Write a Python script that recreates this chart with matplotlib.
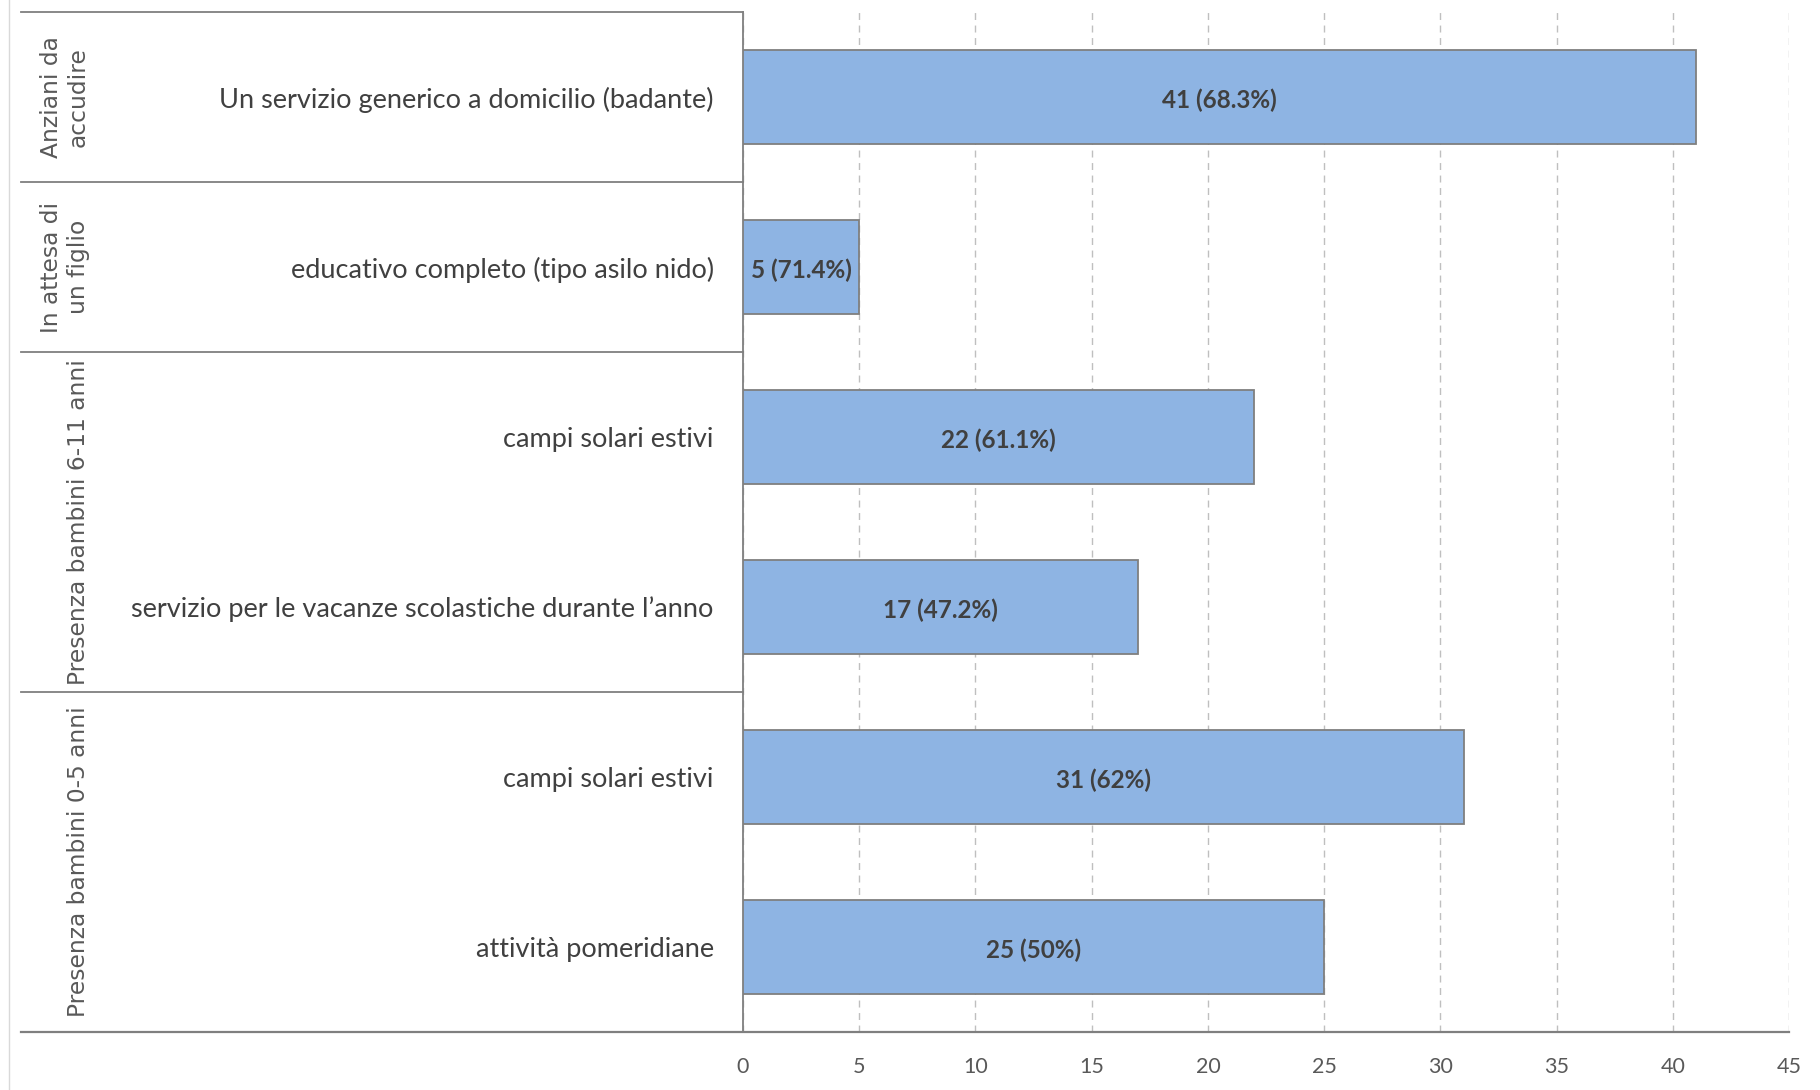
import numpy as np
import matplotlib.pyplot as plt
from matplotlib.lines import Line2D
import matplotlib.transforms as mtransforms

# dati (dall'alto verso il basso)
categorie = ['Un servizio generico a domicilio (badante)',
             'educativo completo (tipo asilo nido)',
             'campi solari estivi',
             'servizio per le vacanze scolastiche durante l\u2019anno',
             'campi solari estivi',
             'attività pomeridiane']
valori = [41, 5, 22, 17, 31, 25]
percentuali = ['68.3%', '71.4%', '61.1%', '47.2%', '62%', '50%']
gruppi = ['Anziani da\naccudire', 'In attesa di\nun figlio',
          'Presenza bambini 6-11 anni', 'Presenza bambini 0-5 anni']
gruppi_n = [1, 1, 2, 2]

W, H = 1820, 1090
fig = plt.figure(figsize=(W / 100, H / 100), dpi=100)
x0, x1, ytop, ybot = 743, 1789, 12, 1032
ax = fig.add_axes([x0 / W, 1 - ybot / H, (x1 - x0) / W, (ybot - ytop) / H])

y = np.arange(len(valori))
bars = ax.barh(y, valori, height=0.55, color='#8EB4E3', edgecolor='#7F7F7F', linewidth=1.3, zorder=3)
for b, v, p in zip(bars, valori, percentuali):
    ax.text(v / 2, b.get_y() + b.get_height() / 2 + 0.02, f'{v} ({p})', ha='center', va='center',
            fontsize=17.5, fontweight='bold', color='#404040', family='Lato', zorder=4)

ax.set_ylim(len(valori) - 0.5, -0.5)
ax.set_xlim(0, 45)
ax.set_xticks(np.arange(0, 46, 5))
ax.set_yticks(y)
ax.set_yticklabels(categorie, fontsize=19.5, color='#404040', family='Lato')
ax.tick_params(axis='y', length=0, pad=21)
ax.tick_params(axis='x', length=0, pad=18, labelsize=15.5, labelcolor='#595959')
for lab in ax.get_xticklabels():
    lab.set_family('Lato')

ax.grid(axis='x', color='#BFBFBF', linestyle=(0, (5, 4)), linewidth=1, zorder=0)
for s in ['top', 'right']:
    ax.spines[s].set_visible(False)
ax.spines['left'].set_color('#7F7F7F')
ax.spines['left'].set_linewidth(1.3)
ax.spines['bottom'].set_visible(False)

# linee dei gruppi
tr = mtransforms.blended_transform_factory(ax.transAxes, ax.transData)
xl = (21 - x0) / (x1 - x0)
confini = np.concatenate([[-0.5], np.cumsum(gruppi_n) - 0.5])
for c in confini[:-1]:
    ax.add_line(Line2D([xl, 0], [c, c], transform=tr, color='#7F7F7F', lw=1.3, clip_on=False))
ax.add_line(Line2D([xl, 1], [confini[-1]] * 2, transform=tr, color='#7F7F7F', lw=1.6, clip_on=False))

xg = (90 - x0) / (x1 - x0)
for g, a, b in zip(gruppi, confini[:-1], confini[1:]):
    ax.text(xg, (a + b) / 2, g, transform=tr, rotation=90, ha='right', va='center',
            multialignment='center', fontsize=16.8, color='#595959', family='DejaVu Sans')

fig.add_artist(Line2D([9 / W, 9 / W], [0, 1], color='#D9D9D9', lw=1))

fig.savefig('out.png', dpi=100)
